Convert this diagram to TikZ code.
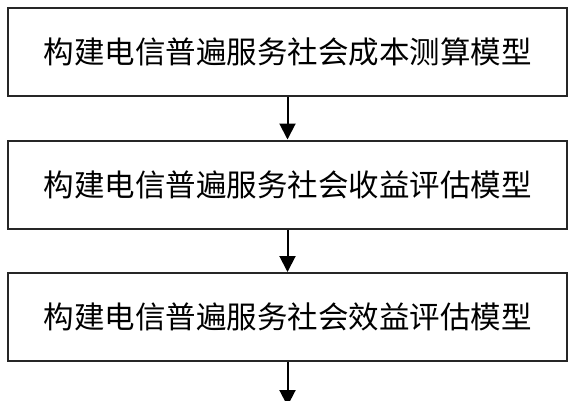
\documentclass[tikz,border=0pt]{standalone}
\usepackage{fontspec}
\newfontfamily\cjk{Noto Sans CJK SC}
\usetikzlibrary{arrows.meta}
\begin{document}
\begin{tikzpicture}[x=1pt,y=-1pt,
  stepbox/.style={draw=black!85, line width=2pt, minimum width=559pt, minimum height=88pt, inner sep=0pt, font=\cjk\fontsize{30.5pt}{33pt}\selectfont},
  conn/.style={line width=2pt, -{Triangle[length=16pt,width=16pt]}}]
\useasboundingbox (0,0) rectangle (575,400);
\node[stepbox] (b1) at (287.5,52) {构建电信普遍服务社会成本测算模型};
\node[stepbox] (b2) at (287.5,184.5) {构建电信普遍服务社会收益评估模型};
\node[stepbox] (b3) at (287.5,317) {构建电信普遍服务社会效益评估模型};
\coordinate (end) at (287.5,406);
\draw[conn] (b1) -- (b2);
\draw[conn] (b2) -- (b3);
\draw[conn] (b3) -- (end);
\end{tikzpicture}
\end{document}
